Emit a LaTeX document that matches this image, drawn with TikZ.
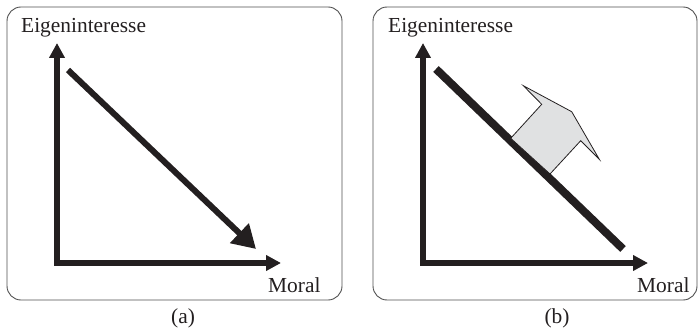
\documentclass[tikz,border=0pt]{standalone}
\usepackage{fontspec}
\setmainfont{Liberation Serif}
\usetikzlibrary{arrows.meta}
\definecolor{ink}{HTML}{231F20}
\definecolor{boxline}{HTML}{505050}
\definecolor{blockfill}{HTML}{E0E1E2}
\begin{document}
\begin{tikzpicture}[x=1pt,y=-1pt,
  panel/.style={draw=boxline,line width=0.9pt,rounded corners=14pt},
  axis/.style={draw=ink,line width=6pt,line join=miter,
    {Triangle[length=15pt,width=15pt]}-{Triangle[length=15pt,width=15pt]}},
  trend/.style={draw=ink,line width=6pt,-{Triangle[length=23pt,width=26pt]}},
  shift line/.style={draw=ink,line width=8pt},
  block/.style={draw=ink,fill=blockfill,line width=0.8pt,line join=miter},
  lbl/.style={text=ink,font=\fontsize{21.4}{24}\selectfont,inner sep=0pt},
]
\useasboundingbox (0,0) rectangle (700,331);
% panel (a)
\draw[panel] (7,7) rectangle (342,300);
\coordinate (aY) at (57,43);
\coordinate (aO) at (57,263);
\coordinate (aX) at (281,263);
\draw[axis] (aY) -- (aO) -- (aX);
\coordinate (aS) at (68,70);
\coordinate (aE) at (256,249);
\draw[trend] (aS) -- (aE);
\node[lbl,anchor=base west] (aylab) at (21,33) {Eigeninteresse};
\node[lbl,anchor=base west] (axlab) at (268,292) {Moral};
\node[lbl,anchor=base] (acap) at (183,323) {(a)};
% panel (b)
\draw[panel] (373,7) rectangle (697,300);
\coordinate (bY) at (423,43);
\coordinate (bO) at (423,263);
\coordinate (bX) at (648,263);
\draw[axis] (bY) -- (bO) -- (bX);
\coordinate (bS) at (436,69);
\coordinate (bE) at (623,249);
\draw[shift line] (bS) -- (bE);
\draw[block] (510.7,138.3) -- (541.7,104.3) -- (523.3,85.7) -- (571.7,111.7)
  -- (599.3,159.3) -- (580.7,140.7) -- (550,174) -- cycle;
\node[lbl,anchor=base west] (bylab) at (388,33) {Eigeninteresse};
\node[lbl,anchor=base west] (bxlab) at (637,292) {Moral};
\node[lbl,anchor=base] (bcap) at (557,323) {(b)};
\end{tikzpicture}
\end{document}
